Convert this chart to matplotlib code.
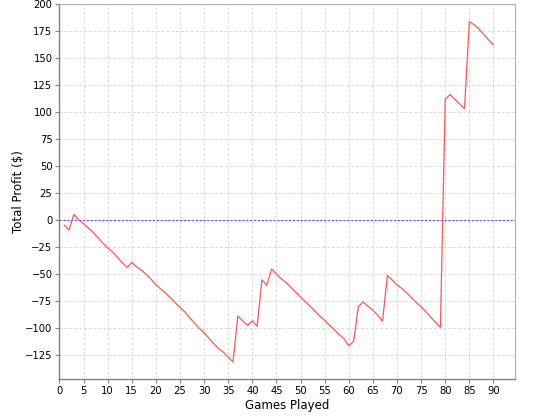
import matplotlib
matplotlib.use("Agg")
import matplotlib.pyplot as plt
import numpy as np

games = list(range(1, 91))
profit = [-4.5, -9, 5.5, 0.5, -3, -7, -11, -16, -21, -25.5,
          -29, -34, -39, -43.5, -39, -43, -46, -50, -54.5, -59.5,
          -63.5, -67, -71.5, -76, -80.5, -84.5, -90, -95, -100, -104,
          -109, -114, -118.5, -122, -126.5, -131, -88.5, -93, -97, -93,
          -98, -55, -60, -45, -49.5, -54, -57.5, -62, -66.5, -71,
          -75, -79.5, -84, -88.5, -92.5, -97, -101, -105.5, -109.5, -116,
          -112, -79.5, -75.5, -79.5, -83, -87.5, -93.5, -51, -55, -59.5,
          -63, -67, -71.5, -76, -80, -84.5, -89.5, -94.5, -99, 112,
          116.5, 112, 107.5, 103.5, 184, 181, 177, 172, 167, 162.5]

xticks = list(range(0, 95, 5))
yticks = list(range(-125, 201, 25))

fig = plt.figure(figsize=(5.4, 4.2), dpi=100)
ax = fig.add_axes([0.110, 0.098, 0.844, 0.892])

ax.set_xlim(0, 94.5)
ax.set_ylim(-146.6, 200)
ax.set_xticks(xticks)
ax.set_yticks(yticks)

ax.grid(True, color="#d9d9d9", linestyle=(0, (3, 2)), linewidth=0.7)
ax.set_axisbelow(True)

ax.axhline(0, color="#5555ff", linestyle=(0, (2, 1.5)), linewidth=0.8)
ax.plot(games, profit, color="#ff5555", linewidth=0.9)

for side in ["top", "right"]:
    ax.spines[side].set_color("#b0b0b0")
    ax.spines[side].set_linewidth(0.8)
for side in ["left", "bottom"]:
    ax.spines[side].set_color("#808080")
    ax.spines[side].set_linewidth(1.0)

ax.tick_params(axis="both", direction="out", length=3, width=0.8,
               color="#808080", labelsize=7.2, pad=2)
ax.set_xlabel("Games Played", fontsize=8.5, labelpad=2)
ax.set_ylabel("Total Profit ($)", fontsize=8.5, labelpad=0)

fig.savefig("out.png", dpi=100)
